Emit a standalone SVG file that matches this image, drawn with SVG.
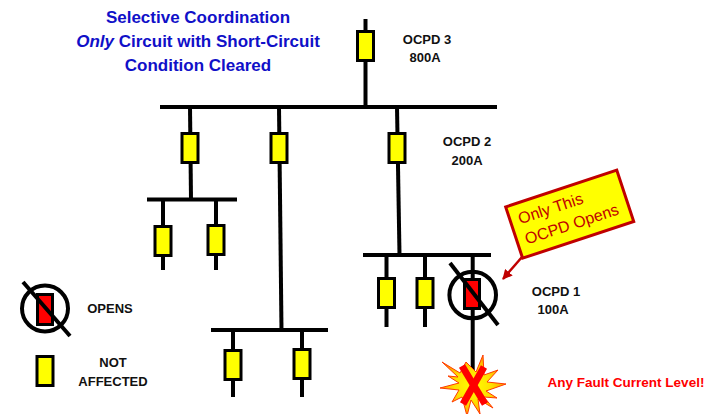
<svg xmlns="http://www.w3.org/2000/svg" width="717" height="414" viewBox="0 0 717 414">
<defs>
<style>
.ln{stroke:#000;stroke-width:4;fill:none;stroke-linecap:butt}
.bx{fill:#FFFF00;stroke:#000;stroke-width:3}
.rb{fill:#FF0000;stroke:#000;stroke-width:3}
.ring{fill:none;stroke:#000;stroke-width:4}
.lbl{font-family:"Liberation Sans",Arial,sans-serif;font-weight:bold;font-size:13px;fill:#111;text-anchor:middle}
.ttl{font-family:"Liberation Sans",Arial,sans-serif;font-weight:bold;font-size:17px;fill:#1010C8;text-anchor:middle}
.co{font-family:"Liberation Sans",Arial,sans-serif;font-size:16px;fill:#C00000}
</style>
<marker id="ah" viewBox="0 0 10 10" refX="9" refY="5" markerWidth="4" markerHeight="4" orient="auto" markerUnits="strokeWidth">
<path d="M0,0 L10,5 L0,10 z" fill="#C00000"/>
</marker>
<radialGradient id="burst" cx="0.5" cy="0.5" r="0.5">
<stop offset="0" stop-color="#FFFF00"/>
<stop offset="0.55" stop-color="#FFE000"/>
<stop offset="1" stop-color="#FF9A00"/>
</radialGradient>
</defs>
<rect width="717" height="414" fill="#fff"/>

<g id="title">
<text class="ttl" x="198" y="23">Selective Coordination</text>
<text class="ttl" x="198" y="47"><tspan font-style="italic">Only</tspan> Circuit with Short-Circuit</text>
<text class="ttl" x="198" y="71">Condition Cleared</text>
</g>

<g id="connectors">
<line class="ln" x1="365.5" y1="19" x2="365.5" y2="107"/>
<line class="ln" x1="160" y1="107" x2="497" y2="107"/>
<line class="ln" x1="190" y1="107" x2="191" y2="199.5"/>
<line class="ln" x1="147" y1="199.5" x2="237" y2="199.5"/>
<line class="ln" x1="163" y1="199.5" x2="163" y2="270"/>
<line class="ln" x1="216" y1="199.5" x2="216" y2="270"/>
<line class="ln" x1="279" y1="107" x2="281.5" y2="330"/>
<line class="ln" x1="211" y1="330" x2="328" y2="330"/>
<line class="ln" x1="233" y1="330" x2="233" y2="397"/>
<line class="ln" x1="302" y1="330" x2="302" y2="397"/>
<line class="ln" x1="397" y1="107" x2="399.5" y2="255"/>
<line class="ln" x1="363" y1="255" x2="491" y2="255"/>
<line class="ln" x1="386.5" y1="255" x2="386.5" y2="327"/>
<line class="ln" x1="425" y1="255" x2="425" y2="327"/>
<line class="ln" x1="472.7" y1="255" x2="472.7" y2="373"/>
<line x1="522" y1="257" x2="503" y2="279" stroke="#C00000" stroke-width="2.5" marker-end="url(#ah)"/>
</g>

<g id="ocpd3">
<rect class="bx" x="357.5" y="31.5" width="16" height="29"/>
<text class="lbl" x="427" y="44">OCPD 3</text>
<text class="lbl" x="425" y="62">800A</text>
</g>

<g id="ocpd2a"><rect class="bx" x="182" y="133.5" width="16" height="29"/></g>
<g id="ocpd2b"><rect class="bx" x="271" y="133.5" width="16" height="29"/></g>
<g id="ocpd2">
<rect class="bx" x="389" y="133.5" width="16" height="29"/>
<text class="lbl" x="467" y="146">OCPD 2</text>
<text class="lbl" x="467" y="165">200A</text>
</g>

<g id="a1"><rect class="bx" x="155" y="226.5" width="16" height="29"/></g>
<g id="a2"><rect class="bx" x="208" y="225.5" width="16" height="29"/></g>
<g id="b1"><rect class="bx" x="225" y="350.5" width="16" height="29"/></g>
<g id="b2"><rect class="bx" x="294" y="349.5" width="16" height="29"/></g>
<g id="c1"><rect class="bx" x="378.5" y="278.5" width="16" height="29"/></g>
<g id="c2"><rect class="bx" x="417" y="278.5" width="16" height="29"/></g>

<g id="ocpd1">
<circle class="ring" cx="472.7" cy="295" r="23.3" fill="#fff"/>
<rect class="rb" x="464.5" y="279.5" width="15" height="29"/>
<line class="ln" x1="450" y1="263" x2="498" y2="325"/>
<text class="lbl" x="556" y="296">OCPD 1</text>
<text class="lbl" x="553" y="314">100A</text>
</g>

<g id="callout" transform="translate(569.7,214.2) rotate(-18.3)">
<rect x="-58.5" y="-27" width="117" height="54" fill="#FFFF00" stroke="#C00000" stroke-width="3"/>
<text class="co" x="-50" y="-6">Only This</text>
<text class="co" x="-50" y="15.5">OCPD Opens</text>
</g>

<g id="fault">
<polygon points="466,362 476,372 483,355 484,375 498,370 487,382 506,384 486,391 497,398 484,397 493,408 478,399 480,414 471,400 467,416 462,397 452,402 459,390 440,388 459,383 448,376 458,377 442,362 460,373" fill="url(#burst)" stroke="#FF3A00" stroke-width="1"/>
<line x1="462" y1="366" x2="485" y2="404" stroke="#FF0000" stroke-width="7"/>
<line x1="484" y1="367" x2="463" y2="404" stroke="#FF0000" stroke-width="7"/>
<text x="626" y="387" font-family="Liberation Sans,Arial,sans-serif" font-weight="bold" font-size="13.5" fill="#FF0000" text-anchor="middle">Any Fault Current Level!</text>
</g>

<g id="legend-opens">
<circle class="ring" cx="45" cy="308.5" r="23"/>
<rect class="rb" x="37.5" y="294.5" width="15" height="30"/>
<line class="ln" x1="23" y1="282" x2="70" y2="336"/>
<text class="lbl" x="110" y="313">OPENS</text>
</g>

<g id="legend-not">
<rect class="bx" x="37" y="356.5" width="16" height="29"/>
<text class="lbl" x="113" y="367">NOT</text>
<text class="lbl" x="113" y="386">AFFECTED</text>
</g>
</svg>
